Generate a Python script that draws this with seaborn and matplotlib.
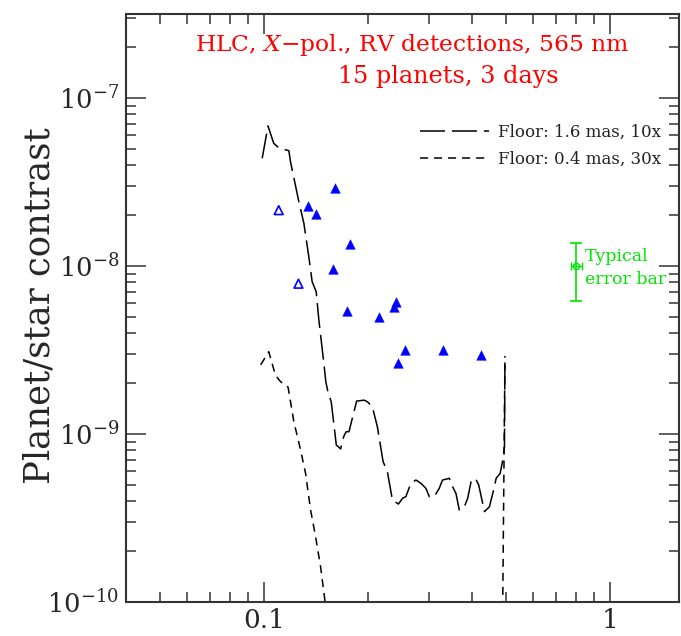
import numpy as np
import pandas as pd
import matplotlib
matplotlib.use("Agg")
import matplotlib.pyplot as plt
import seaborn as sns
from matplotlib.ticker import NullFormatter, FuncFormatter, LogFormatterSciNotation, FixedLocator

# ---- data ----
sep_long = [0.099, 0.1029, 0.1069, 0.1110, 0.1182, 0.1195, 0.1263, 0.1306, 0.1350, 0.1380,
            0.1418, 0.1443, 0.1492, 0.1512, 0.1533, 0.1567, 0.1621, 0.1668, 0.1705, 0.1731,
            0.1763, 0.1856, 0.1950, 0.1993, 0.2060, 0.2130, 0.2213, 0.2277, 0.2354, 0.2450,
            0.2518, 0.2575, 0.2662, 0.2753, 0.2846, 0.2942, 0.3008, 0.3110, 0.3215, 0.3286,
            0.3438, 0.3513, 0.3593, 0.3674, 0.3800, 0.3885, 0.3973, 0.4089, 0.4181, 0.4343,
            0.4490, 0.4642, 0.4695, 0.4822, 0.4906, 0.4962, 0.4978]
con_long = [4.38e-8, 6.81e-8, 5.37e-8, 5.02e-8, 4.86e-8, 4.18e-8, 2.42e-8, 1.80e-8, 1.135e-8, 8.07e-9,
            7.03e-9, 4.78e-9, 2.64e-9, 2.04e-9, 1.78e-9, 1.556e-9, 8.6e-10, 8.15e-10, 9.73e-10, 1.032e-9,
            1.032e-9, 1.57e-9, 1.59e-9, 1.556e-9, 1.454e-9, 1.105e-9, 6.84e-10, 5.97e-10, 4.05e-10, 3.83e-10,
            4.14e-10, 4.24e-10, 5.09e-10, 5.32e-10, 5.09e-10, 4.75e-10, 4.24e-10, 4.24e-10, 4.75e-10, 5.32e-10,
            5.45e-10, 4.86e-10, 4.43e-10, 3.53e-10, 3.69e-10, 4.14e-10, 5.20e-10, 5.45e-10, 4.97e-10, 3.45e-10,
            3.69e-10, 4.86e-10, 5.45e-10, 5.83e-10, 7.0e-10, 8.4e-10, 2.91e-9]

sep_short = [0.098, 0.1034, 0.1081, 0.1118, 0.1176, 0.1222, 0.1278, 0.1321, 0.1366, 0.1412,
             0.1460, 0.1500, 0.1523, 0.4900, 0.4906, 0.4978]
con_short = [2.58e-9, 3.09e-9, 2.24e-9, 2.05e-9, 1.90e-9, 1.183e-9, 8.03e-10, 5.83e-10, 3.53e-10, 2.45e-10,
             1.62e-10, 1.05e-10, 8.0e-11, 5.0e-11, 1.0e-10, 2.91e-9]

det_sep = [0.1607, 0.134, 0.142, 0.178, 0.1585, 0.1743, 0.216, 0.2416, 0.2387, 0.256, 0.245, 0.329, 0.4247]
det_con = [2.91e-8, 2.29e-8, 2.03e-8, 1.36e-8, 9.6e-9, 5.42e-9, 4.97e-9, 6.1e-9, 5.68e-9, 3.16e-9,
           2.65e-9, 3.16e-9, 2.95e-9]

tent_sep = [0.1105, 0.126]
tent_con = [2.15e-8, 7.85e-9]

err_sep = 0.8
err_con = 1.0e-8
err_dsep = 0.03
err_dcon = 0.38e-8

legend_labels = ["Floor: 1.6 mas, 10x", "Floor: 0.4 mas, 30x"]
title_lines = ["HLC, $X$\u2212pol., RV detections, 565 nm", "15 planets, 3 days"]
x_tick_vals = [0.1, 1.0]
x_tick_labels = ["0.1", "1"]

# ---- style ----
sns.set_style("ticks")
plt.rcParams['font.family'] = ['DejaVu Serif', 'DejaVu Sans']
plt.rcParams['mathtext.fontset'] = 'dejavuserif'
plt.rcParams['lines.scale_dashes'] = False

fig = plt.figure(figsize=(6.81, 6.36), dpi=100)
ax = fig.add_axes([126/681, 1-602/636, 553/681, 588/636])
ax.set_xscale('log')
ax.set_yscale('log')

df_long = pd.DataFrame({'sep': sep_long, 'con': con_long})
df_short = pd.DataFrame({'sep': sep_short, 'con': con_short})
df_det = pd.DataFrame({'sep': det_sep, 'con': det_con})
df_tent = pd.DataFrame({'sep': tent_sep, 'con': tent_con})

sns.lineplot(data=df_long, x='sep', y='con', sort=False, estimator=None, color='black',
             linewidth=1.1, ax=ax, legend=False)
l_long = ax.lines[-1]
l_long.set_linestyle((0, (18, 5)))
sns.lineplot(data=df_short, x='sep', y='con', sort=False, estimator=None, color='black',
             linewidth=1.1, ax=ax, legend=False)
l_short = ax.lines[-1]
l_short.set_linestyle((0, (5.8, 4.3)))

sns.scatterplot(data=df_det, x='sep', y='con', marker='^', s=48, color='#0000ff',
                edgecolor='#0000ff', linewidth=0.3, ax=ax, legend=False, zorder=3)
sns.scatterplot(data=df_tent, x='sep', y='con', marker='^', s=40, facecolor='none',
                edgecolor='#0000ff', linewidth=1.2, ax=ax, legend=False, zorder=3)

green = '#00e600'
ax.errorbar([err_sep], [err_con], yerr=[err_dcon], fmt='none', ecolor=green, elinewidth=1.2,
            capsize=4.0, capthick=1.2)
ax.errorbar([err_sep], [err_con], xerr=[err_dsep], fmt='o', ms=4.5, mfc='none', mec=green,
            mew=1.0, ecolor=green, elinewidth=1.0, capsize=3.2, capthick=1.0)

ax.set_xlim(0.04, 10**0.2)
ax.set_ylim(1e-10, 10**-6.5)

ax.legend([l_long, l_short], legend_labels, loc='upper left', bbox_to_anchor=(0.532, 0.8135),
          frameon=False, fontsize=12, handlelength=4.1, handletextpad=0.55, labelspacing=0.62,
          borderpad=0, borderaxespad=0, labelcolor='#222222')

# ticks
ax.xaxis.set_major_locator(FixedLocator(x_tick_vals))
ax.xaxis.set_major_formatter(FuncFormatter(lambda v, p: x_tick_labels[x_tick_vals.index(v)] if v in x_tick_vals else ""))
ax.xaxis.set_minor_formatter(NullFormatter())
ax.yaxis.set_major_formatter(LogFormatterSciNotation())
ax.yaxis.set_minor_formatter(NullFormatter())
ax.tick_params(which='both', direction='in', top=True, right=True, color='#444444', width=1.2)
ax.tick_params(which='major', length=14.4)
ax.tick_params(which='minor', length=7.2)
ax.tick_params(axis='x', which='major', labelsize=19, pad=4)
ax.tick_params(axis='y', which='major', labelsize=18.5, pad=5)
for s in ax.spines.values():
    s.set_color('#333333')
    s.set_linewidth(1.5)
ax.set_xlabel('')
ax.set_ylabel('')

fig.text(40/681, 1-306/636, 'Planet/star contrast', rotation=90, fontsize=25.5,
         ha='center', va='center')
fig.text(412/681, 1-45/636, title_lines[0], color='red', fontsize=16.8, ha='center', va='center')
fig.text(448/681, 1-77/636, title_lines[1], color='red', fontsize=17.2, ha='center', va='center')
fig.text(585/681, 1-268/636, "Typical\nerror bar", color=green, fontsize=12.5, ha='left',
         va='center', linespacing=1.4)

fig.savefig('out.png', dpi=100)
